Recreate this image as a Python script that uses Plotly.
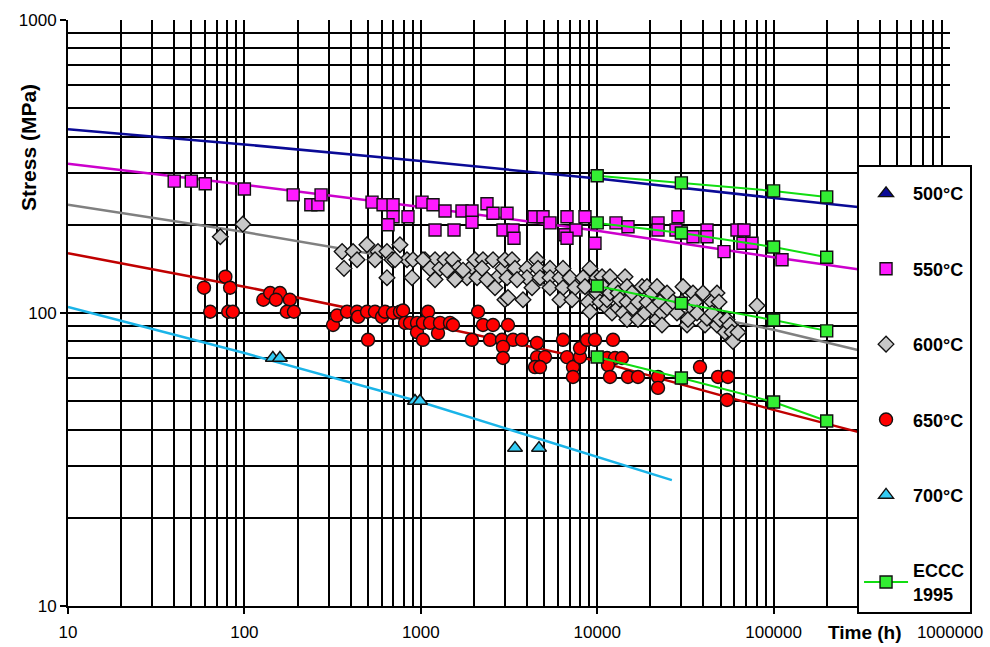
import plotly.graph_objects as go

# ---------------- data ----------------
x_tick_vals = [10, 100, 1000, 10000, 100000, 1000000]
x_tick_text = ["10", "100", "1000", "10000", "100000", "1000000"]
y_tick_vals = [10, 100, 1000]
y_tick_text = ["10", "100", "1000"]

# fitted master curves (time h, stress MPa)
fit_time = [10, 100, 1000, 10000, 100000, 300000]
fit_500 = [424, 376, 330, 288, 247, 230]
fit_550 = [323, 274, 230, 191, 155, 141]
fit_600 = [234, 189, 149, 115, 87.7, 74.8]
fit_650 = [160, 123, 92.5, 68.5, 46.7, 39.3]
fit_700_time = [10, 100, 1000, 10000, 26500]
fit_700 = [104.8, 73, 49.7, 32.2, 26.9]

# experimental data 500 C (no points visible in the chart)
t500 = [None]
s500 = [None]

# experimental data 550 C
t550 = [40, 50, 60, 100, 189, 238, 261, 272, 529, 611, 696, 696, 652, 846, 1016, 1173,
        1372, 1204, 1543, 1712, 1951, 1951, 2373, 2567, 3082, 2924, 3333, 3376, 4383,
        4929, 5400, 6743, 6569, 7583, 6743, 8527, 9716, 12780, 14950, 22120, 22120,
        28710, 27970, 34920, 41930, 41930, 52330, 62000, 67950, 67060, 75430, 111600]
s550 = [282, 282, 276, 265, 253, 234, 234, 253, 239, 234, 234, 213, 200, 213, 239, 234,
        223, 192, 192, 223, 223, 204, 236, 219, 219, 192, 192, 180, 213,
        213, 203, 213, 185, 192, 180, 213, 173, 203, 197, 203, 192,
        213, 192, 182, 192, 182, 162, 192, 192, 173, 173, 152]

# experimental data 600 C
t600 = [73, 98, 358, 413, 435, 367, 495, 572, 643, 550, 687, 762, 643, 835, 891, 1056,
        1204, 1128, 1285, 1204, 1372, 1522, 1625, 1604, 1900, 1828, 2029, 2083, 2252,
        2223, 2567, 2704, 2634, 2924, 3000, 3082, 3000, 3289, 3420, 3796, 4000, 4000,
        4270, 4558, 4618, 4740, 5400, 5400, 5400, 6152, 6400, 6400, 6152, 7013, 7484,
        7196, 8308, 8527, 8868, 9105, 9105, 9975, 9975, 10370, 10650, 10790, 11370,
        11370, 11820, 11820, 12130, 12620, 13120, 13120, 13470, 14010, 14380, 14760,
        14760, 14760, 15750, 15950, 17030, 17030, 17950, 18670, 19160, 19160, 20450,
        20720, 21830, 21830, 22700, 23300, 23300, 24880, 24880, 26900, 28340, 30250,
        30650, 32300, 32720, 34470, 34920, 35840, 36800, 39790, 40850, 41930, 44760,
        44760, 47770, 47770, 49040, 49690, 53030, 54430, 56590, 58090, 58850, 62840,
        80530, 2373, 3120, 1408, 1735, 3512, 903, 1029, 1563, 714]
s600 = [182, 201, 162, 162, 152, 142, 171, 162, 162, 152, 152, 171, 132, 152, 132, 152,
        152, 142, 142, 130, 152, 152, 142, 132, 142, 132, 152, 132, 152,
        142, 152, 132, 122, 142, 152, 132, 111, 152, 142, 111, 142, 132,
        122, 152, 142, 132, 142, 132, 122, 132, 142, 122, 111, 132, 122,
        111, 132, 123, 109, 142, 101, 132, 117, 109, 133, 123, 104,
        111, 133, 117, 100, 123, 117, 104, 111, 100, 133, 123,
        109, 95, 117, 104, 109, 95, 123, 100, 123, 109, 117,
        104, 123, 95, 109, 100, 91, 117, 104, 109, 100, 109,
        123, 91, 95, 104, 117, 109, 100, 117, 91, 96, 109,
        100, 117, 91, 109, 95, 86, 95, 91, 86, 80, 86,
        106, 130, 113, 140, 140, 130, 152, 152, 130, 152]

# experimental data 650 C
t650 = [59, 78, 83, 64, 81, 86, 128, 140, 159, 151, 181, 174, 191,
        318, 335, 382, 435, 441, 496, 550, 603, 627, 696, 762, 793, 814, 869, 952, 952,
        1029, 1099, 1128, 1252, 1285, 1464, 1522, 2110, 2252, 2567, 3121,
        502, 1029, 1951, 2468, 2886, 3333, 3747, 2924, 2924,
        4558, 4558, 5059, 4440, 4740, 6400, 6743, 7291, 7291, 7988, 7988, 8753, 9716,
        12290, 11370, 12620, 13830, 11510, 11820, 14950, 17030, 22120, 22120, 38260,
        48410, 55140, 54430]
s650 = [122, 133, 122, 101, 101, 101, 111, 117, 117, 111, 111, 101, 101,
        91, 98, 101, 101, 97, 101, 101, 97, 101, 100, 101, 102, 92.5, 92.5, 92.5, 86,
        92.5, 101, 92.5, 85.4, 92.5, 92.5, 91, 101, 91, 91, 91,
        81, 81, 81, 81, 81, 81, 81, 76.6, 70.2,
        79, 70.7, 70.7, 65.4, 65.4, 81, 70.7, 65.4, 60.5, 70.7, 75.9, 81, 81,
        81, 70.2, 70.2, 70.2, 66.4, 60.5, 60.5, 60.5, 60.5, 55.5, 65.4,
        60.5, 60.5, 50.5]

# experimental data 700 C
t700 = [145, 159, 927, 990, 3420, 4679]
s700 = [70.2, 70.2, 50.1, 50.1, 34.6, 34.6]

# ECCC 1995 assessment
eccc_time = [10000, 30000, 100000, 200000]
eccc_550 = [294, 278, 261, 249]
eccc_600 = [203, 187.5, 168, 155]
eccc_650 = [123.6, 108, 94.6, 86.9]
eccc_700 = [70.8, 60, 49.7, 42.8]

# ---------------- figure ----------------
FONT = "Liberation Sans, Arial, sans-serif"
fig = go.Figure()

line_specs = [
    (fit_time, fit_500, "#0a0a96", "g500"),
    (fit_time, fit_550, "#cc00cc", "g550"),
    (fit_time, fit_600, "#808080", "g600"),
    (fit_time, fit_650, "#c00000", "g650"),
    (fit_700_time, fit_700, "#1ab4e8", "g700"),
]
for xs, ys, col, grp in line_specs:
    fig.add_trace(go.Scatter(x=xs, y=ys, mode="lines", line=dict(color=col, width=2.5),
                             showlegend=False, legendgroup=grp, hoverinfo="skip"))

outline = dict(color="#111111", width=1.4)
fig.add_trace(go.Scatter(x=t500, y=s500, mode="markers", name="<b>500°C</b>", legendgroup="g500",
                         marker=dict(symbol="triangle-up", size=13, color="#0a0a96", line=outline)))
fig.add_trace(go.Scatter(x=t550, y=s550, mode="markers", name="<b>550°C</b>", legendgroup="g550",
                         marker=dict(symbol="square", size=12, color="#ff1aff", line=outline)))
fig.add_trace(go.Scatter(x=t600, y=s600, mode="markers", name="<b>600°C</b>", legendgroup="g600",
                         marker=dict(symbol="diamond", size=12, color="#c8c8c8", line=outline)))
fig.add_trace(go.Scatter(x=t650, y=s650, mode="markers", name="<b>650°C</b>", legendgroup="g650",
                         marker=dict(symbol="circle", size=13, color="#ff0000", line=outline)))
fig.add_trace(go.Scatter(x=t700, y=s700, mode="markers", name="<b>700°C</b>", legendgroup="g700",
                         marker=dict(symbol="triangle-up", size=13, color="#33ccf5", line=outline)))

ex, ey = [], []
for row in (eccc_550, eccc_600, eccc_650, eccc_700):
    ex += eccc_time + [None]
    ey += row + [None]
fig.add_trace(go.Scatter(x=ex, y=ey, mode="lines+markers", name="<b>ECCC<br>1995</b>",
                         legendgroup="geccc", connectgaps=False,
                         line=dict(color="#11dd11", width=2),
                         marker=dict(symbol="square", size=12, color="#33ee33", line=outline)))

grid = dict(showgrid=True, gridcolor="black", gridwidth=1.5)
fig.update_xaxes(type="log", range=[1, 6], tickvals=x_tick_vals, ticktext=x_tick_text,
                 minor=dict(dtick="D1", showgrid=True, gridcolor="black", gridwidth=1.5),
                 showline=True, linecolor="black", linewidth=2, ticks="outside", ticklen=6,
                 tickcolor="black", tickwidth=1.5, ticklabelstandoff=4, automargin=False,
                 tickfont=dict(family=FONT, size=17, color="black"), zeroline=False, **grid)
fig.update_yaxes(type="log", range=[1, 3], tickvals=y_tick_vals, ticktext=y_tick_text,
                 minor=dict(dtick="D1", showgrid=True, gridcolor="black", gridwidth=1.5),
                 showline=True, linecolor="black", linewidth=2, ticks="outside", ticklen=6,
                 tickcolor="black", tickwidth=1.5, automargin=False,
                 tickfont=dict(family=FONT, size=17, color="black"), zeroline=False, **grid)

fig.update_layout(
    width=990, height=647,
    margin=dict(l=68, r=40, t=20, b=41, autoexpand=False),
    paper_bgcolor="white", plot_bgcolor="white",
    font=dict(family=FONT, color="black"),
    legend=dict(x=0.8946, y=0.752, xanchor="left", yanchor="top",
                bgcolor="white", bordercolor="black", borderwidth=2,
                title=dict(text=" ", font=dict(family=FONT, size=6)),
                font=dict(family=FONT, size=18, color="black"),
                traceorder="grouped", tracegroupgap=49, itemwidth=44),
    annotations=[
        dict(text="<b>Stress (MPa)</b>", textangle=-90, xref="paper", yref="paper",
             x=-0.0454, y=0.783, xanchor="center", yanchor="middle", showarrow=False,
             font=dict(family=FONT, size=21, color="black")),
        dict(text="<b>Time (h)</b>", xref="paper", yref="paper",
             x=0.9036, y=-0.046, xanchor="center", yanchor="middle", showarrow=False,
             font=dict(family=FONT, size=19, color="black")),
    ],
)

fig.write_html("out.html")
